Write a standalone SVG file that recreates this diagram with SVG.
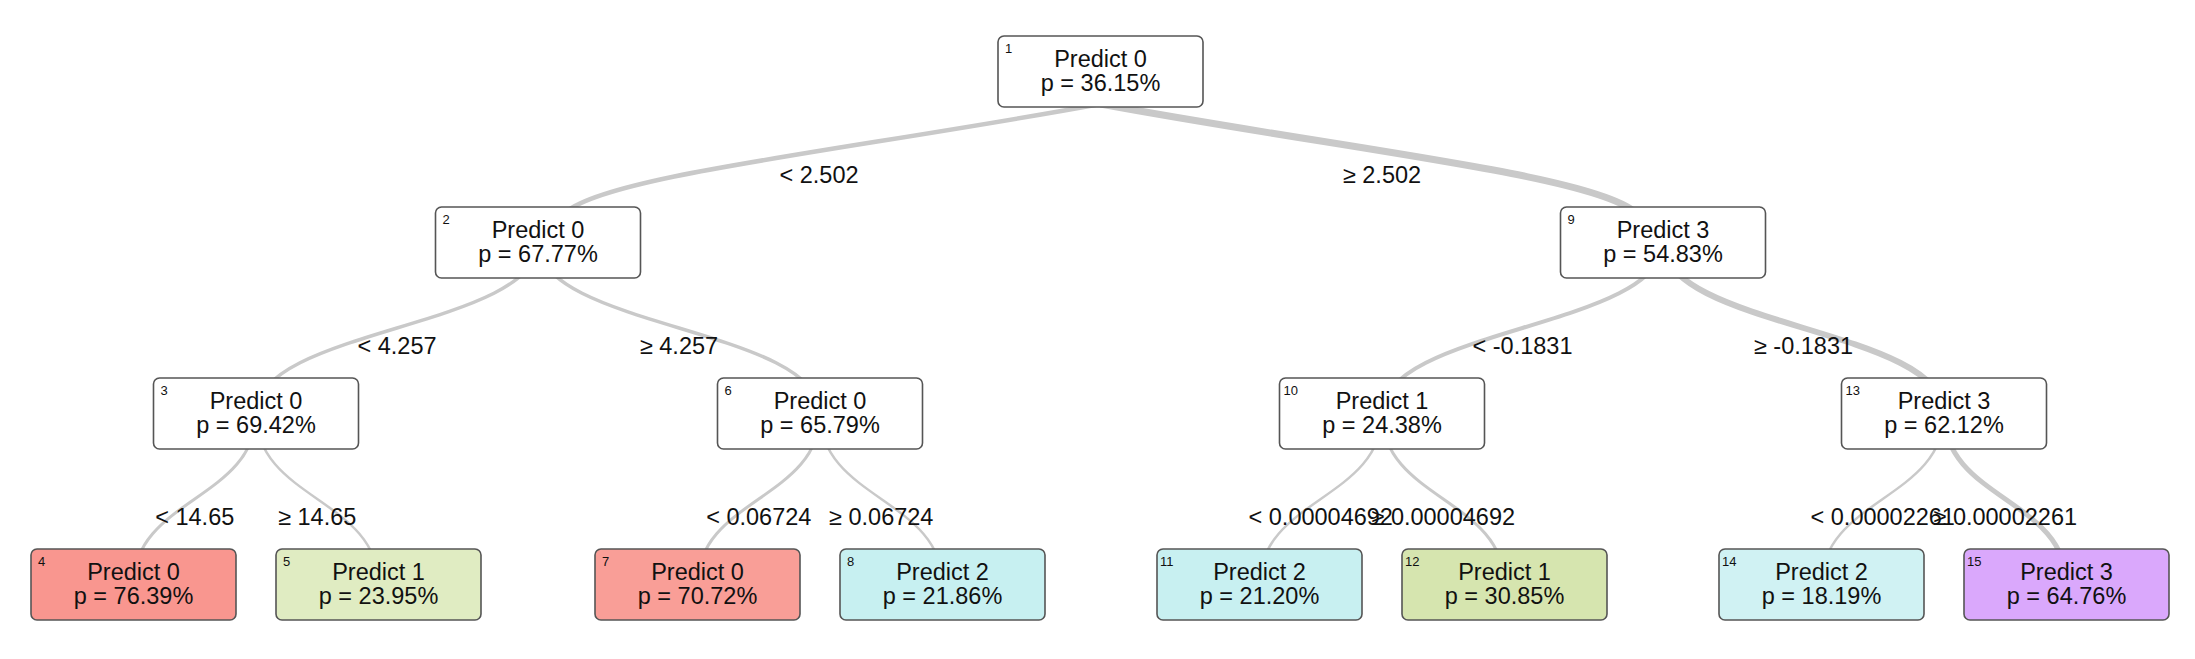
<svg xmlns="http://www.w3.org/2000/svg" width="2195" height="659" viewBox="0 0 2195 659">
<style>
.bg{fill:#ffffff}
.edge{fill:none;stroke:#c9c9c9;stroke-linecap:butt}
.box{stroke:#555555;stroke-width:1.6}
.t{font-family:"Liberation Sans",Arial,sans-serif;font-size:23.5px;fill:#111111;text-anchor:middle}
.n{font-family:"Liberation Sans",Arial,sans-serif;font-size:13px;fill:#111111}
.lbl{font-family:"Liberation Sans",Arial,sans-serif;font-size:23.5px;fill:#111111;text-anchor:middle}
</style>
<rect class="bg" x="0" y="0" width="2195" height="659"/>
<g id="connectors">
<path class="edge" style="stroke-width:4.5" d="M1100.5,104 C850,150 610,175 566,212"/>
<path class="edge" style="stroke-width:7" d="M1100.5,104 C1351,150 1591,175 1635,212"/>
<path class="edge" style="stroke-width:3.5" d="M538,242.5 C538,328 256,328 256,413.5"/>
<path class="edge" style="stroke-width:3.5" d="M538,242.5 C538,328 820,328 820,413.5"/>
<path class="edge" style="stroke-width:4" d="M1663,242.5 C1663,328 1382,328 1382,413.5"/>
<path class="edge" style="stroke-width:6" d="M1663,242.5 C1663,328 1944,328 1944,413.5"/>
<path class="edge" style="stroke-width:3" d="M256,413.5 C256,499 133.5,499 133.5,584.5"/>
<path class="edge" style="stroke-width:2.5" d="M256,413.5 C256,499 378.5,499 378.5,584.5"/>
<path class="edge" style="stroke-width:3" d="M820,413.5 C820,499 697.5,499 697.5,584.5"/>
<path class="edge" style="stroke-width:2.5" d="M820,413.5 C820,499 942.5,499 942.5,584.5"/>
<path class="edge" style="stroke-width:2.5" d="M1382,413.5 C1382,499 1259.5,499 1259.5,584.5"/>
<path class="edge" style="stroke-width:3" d="M1382,413.5 C1382,499 1504.5,499 1504.5,584.5"/>
<path class="edge" style="stroke-width:2.5" d="M1944,413.5 C1944,499 1821.5,499 1821.5,584.5"/>
<path class="edge" style="stroke-width:5" d="M1944,413.5 C1944,499 2066.5,499 2066.5,584.5"/>
</g>
<g id="edge-labels">
<text class="lbl" x="819" y="182.5">&lt; 2.502</text>
<text class="lbl" x="1382" y="182.5">≥ 2.502</text>
<text class="lbl" x="397" y="353.5">&lt; 4.257</text>
<text class="lbl" x="679" y="353.5">≥ 4.257</text>
<text class="lbl" x="1522.5" y="353.5">&lt; -0.1831</text>
<text class="lbl" x="1803.5" y="353.5">≥ -0.1831</text>
<text class="lbl" x="194.75" y="524.5">&lt; 14.65</text>
<text class="lbl" x="317.25" y="524.5">≥ 14.65</text>
<text class="lbl" x="758.75" y="524.5">&lt; 0.06724</text>
<text class="lbl" x="881.25" y="524.5">≥ 0.06724</text>
<text class="lbl" x="1320.75" y="524.5">&lt; 0.00004692</text>
<text class="lbl" x="1443.25" y="524.5">≥ 0.00004692</text>
<text class="lbl" x="1882.75" y="524.5">&lt; 0.00002261</text>
<text class="lbl" x="2005.25" y="524.5">≥ 0.00002261</text>
</g>
<g id="node1"><rect class="box" x="998" y="36" width="205" height="71" rx="6" fill="#ffffff"/><text class="n" x="1005" y="53">1</text><text class="t" x="1100.5" y="67">Predict 0</text><text class="t" x="1100.5" y="91">p = 36.15%</text></g>
<g id="node2"><rect class="box" x="435.5" y="207" width="205" height="71" rx="6" fill="#ffffff"/><text class="n" x="442.5" y="224">2</text><text class="t" x="538" y="238">Predict 0</text><text class="t" x="538" y="262">p = 67.77%</text></g>
<g id="node9"><rect class="box" x="1560.5" y="207" width="205" height="71" rx="6" fill="#ffffff"/><text class="n" x="1567.5" y="224">9</text><text class="t" x="1663" y="238">Predict 3</text><text class="t" x="1663" y="262">p = 54.83%</text></g>
<g id="node3"><rect class="box" x="153.5" y="378" width="205" height="71" rx="6" fill="#ffffff"/><text class="n" x="160.5" y="395">3</text><text class="t" x="256" y="409">Predict 0</text><text class="t" x="256" y="433">p = 69.42%</text></g>
<g id="node6"><rect class="box" x="717.5" y="378" width="205" height="71" rx="6" fill="#ffffff"/><text class="n" x="724.5" y="395">6</text><text class="t" x="820" y="409">Predict 0</text><text class="t" x="820" y="433">p = 65.79%</text></g>
<g id="node10"><rect class="box" x="1279.5" y="378" width="205" height="71" rx="6" fill="#ffffff"/><text class="n" x="1283.5" y="395">10</text><text class="t" x="1382" y="409">Predict 1</text><text class="t" x="1382" y="433">p = 24.38%</text></g>
<g id="node13"><rect class="box" x="1841.5" y="378" width="205" height="71" rx="6" fill="#ffffff"/><text class="n" x="1845.5" y="395">13</text><text class="t" x="1944" y="409">Predict 3</text><text class="t" x="1944" y="433">p = 62.12%</text></g>
<g id="node4"><rect class="box" x="31" y="549" width="205" height="71" rx="6" fill="#F9968F"/><text class="n" x="38" y="566">4</text><text class="t" x="133.5" y="580">Predict 0</text><text class="t" x="133.5" y="604">p = 76.39%</text></g>
<g id="node5"><rect class="box" x="276" y="549" width="205" height="71" rx="6" fill="#E0ECC2"/><text class="n" x="283" y="566">5</text><text class="t" x="378.5" y="580">Predict 1</text><text class="t" x="378.5" y="604">p = 23.95%</text></g>
<g id="node7"><rect class="box" x="595" y="549" width="205" height="71" rx="6" fill="#F99E97"/><text class="n" x="602" y="566">7</text><text class="t" x="697.5" y="580">Predict 0</text><text class="t" x="697.5" y="604">p = 70.72%</text></g>
<g id="node8"><rect class="box" x="840" y="549" width="205" height="71" rx="6" fill="#C7F0F1"/><text class="n" x="847" y="566">8</text><text class="t" x="942.5" y="580">Predict 2</text><text class="t" x="942.5" y="604">p = 21.86%</text></g>
<g id="node11"><rect class="box" x="1157" y="549" width="205" height="71" rx="6" fill="#C8F0F1"/><text class="n" x="1160" y="566">11</text><text class="t" x="1259.5" y="580">Predict 2</text><text class="t" x="1259.5" y="604">p = 21.20%</text></g>
<g id="node12"><rect class="box" x="1402" y="549" width="205" height="71" rx="6" fill="#D6E5AF"/><text class="n" x="1405" y="566">12</text><text class="t" x="1504.5" y="580">Predict 1</text><text class="t" x="1504.5" y="604">p = 30.85%</text></g>
<g id="node14"><rect class="box" x="1719" y="549" width="205" height="71" rx="6" fill="#D0F2F3"/><text class="n" x="1722" y="566">14</text><text class="t" x="1821.5" y="580">Predict 2</text><text class="t" x="1821.5" y="604">p = 18.19%</text></g>
<g id="node15"><rect class="box" x="1964" y="549" width="205" height="71" rx="6" fill="#DAA8FC"/><text class="n" x="1967" y="566">15</text><text class="t" x="2066.5" y="580">Predict 3</text><text class="t" x="2066.5" y="604">p = 64.76%</text></g>
</svg>
